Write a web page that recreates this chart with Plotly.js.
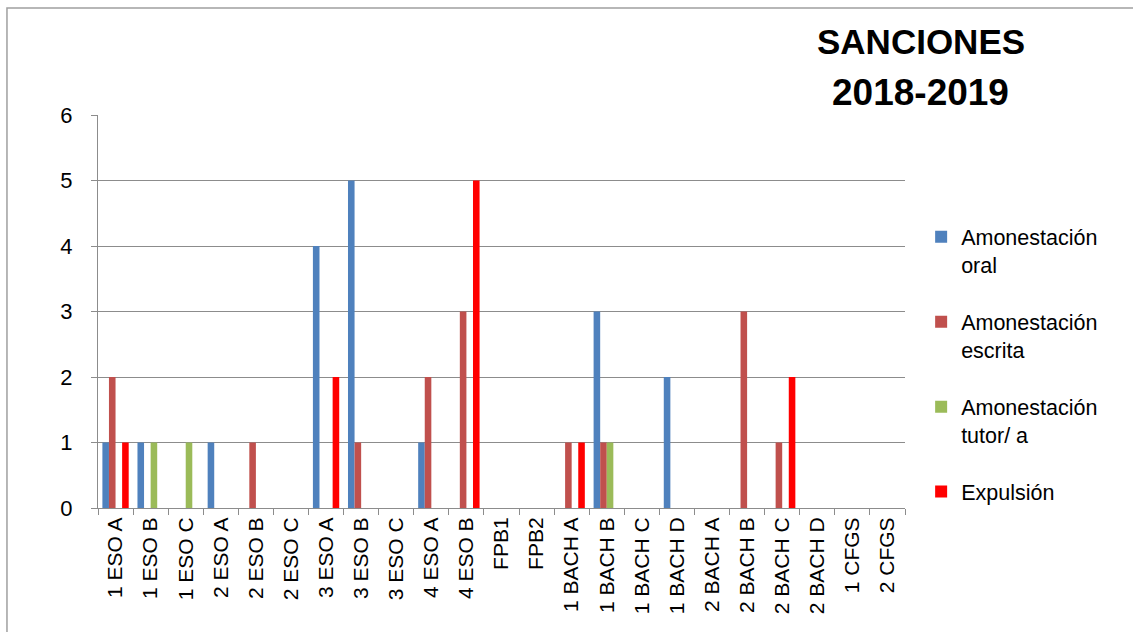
<!DOCTYPE html>
<html>
<head>
<meta charset="utf-8">
<script src="https://cdn.plot.ly/plotly-3.0.1.min.js"></script>
<style>html,body{margin:0;padding:0;background:#fff;}#chart{width:1133px;height:632px;}</style>
</head>
<body>
<div id="chart"></div>
<script>
const categories = ["1 ESO A","1 ESO B","1 ESO C","2 ESO A","2 ESO B","2 ESO C","3 ESO A","3 ESO B","3 ESO C","4 ESO A","4 ESO B","FPB1","FPB2","1 BACH A","1 BACH B","1 BACH C","1 BACH D","2 BACH A","2 BACH B","2 BACH C","2 BACH D","1 CFGS","2 CFGS"];
const oral      = [1,1,0,1,0,0,4,5,0,1,0,0,0,0,3,0,2,0,0,0,0,0,0];
const escrita   = [2,0,0,0,1,0,0,1,0,2,3,0,0,1,1,0,0,0,3,1,0,0,0];
const tutor     = [0,1,1,0,0,0,0,0,0,0,0,0,0,0,1,0,0,0,0,0,0,0,0];
const expulsion = [1,0,0,0,0,0,2,0,0,0,5,0,0,1,0,0,0,0,0,2,0,0,0];
const seriesNames = ["Amonestación<br>oral","Amonestación<br>escrita","Amonestación<br>tutor/ a","Expulsión"];
const titleLines = ["SANCIONES","2018-2019"];
const yTicks = [0,1,2,3,4,5,6];

const colors = ["#4F81BD","#C0504D","#9BBB59","#FF0000"];
const allSeries = [oral, escrita, tutor, expulsion];
const traces = allSeries.map((vals, i) => ({
  type: "bar",
  x: categories,
  y: vals,
  name: seriesNames[i],
  legendgroup: "g" + i,
  marker: {color: colors[i]},
  hoverinfo: "x+y+name"
}));

const fontMain = "Liberation Sans, Arial, sans-serif";
const layout = {
  width: 1133, height: 632,
  margin: {l: 98, r: 228, t: 115, b: 124},
  paper_bgcolor: "#ffffff",
  plot_bgcolor: "#ffffff",
  barmode: "group",
  bargap: 0.25,
  bargroupgap: 0,
  showlegend: true,
  legend: {
    x: 1.02, xanchor: "left", y: 0.742, yanchor: "top",
    font: {family: fontMain, size: 21.5, color: "#000"},
    tracegroupgap: 26,
    valign: "top",
    itemwidth: 30,
    bgcolor: "rgba(0,0,0,0)"
  },
  xaxis: {
    type: "category",
    tickangle: -90,
    tickfont: {family: fontMain, size: 21, color: "#000"},
    showline: true, linecolor: "#8c8c8c", linewidth: 1,
    ticks: "outside", ticklen: 6, tickcolor: "#8c8c8c",
    tickson: "boundaries",
    showgrid: false,
    zeroline: false
  },
  yaxis: {
    range: [0, 6],
    tickvals: yTicks,
    tickfont: {family: fontMain, size: 22, color: "#000"},
    showline: true, linecolor: "#8c8c8c", linewidth: 1,
    ticks: "outside", ticklen: 6, tickcolor: "#8c8c8c",
    showgrid: true, gridcolor: "#8c8c8c", gridwidth: 1,
    zeroline: false,
    ticklabelstandoff: 14
  },
  annotations: [
    {text: "<b>" + titleLines[0] + "</b>", xref: "paper", yref: "paper", x: 1.0198, y: 1.1858, xanchor: "center", yanchor: "middle", showarrow: false, font: {family: fontMain, size: 35, color: "#000"}},
    {text: "<b>" + titleLines[1] + "</b>", xref: "paper", yref: "paper", x: 1.0198, y: 1.0585, xanchor: "center", yanchor: "middle", showarrow: false, font: {family: fontMain, size: 37, color: "#000"}}
  ],
  shapes: [
    {type: "rect", xref: "paper", yref: "paper", x0: -0.1128, x1: 1.3, y0: -0.4, y1: 1.2723, line: {color: "#a0a0a0", width: 1.5}, fillcolor: "rgba(0,0,0,0)", layer: "below"}
  ]
};

Plotly.newPlot("chart", traces, layout, {displayModeBar: false, responsive: false});
</script>
</body>
</html>
